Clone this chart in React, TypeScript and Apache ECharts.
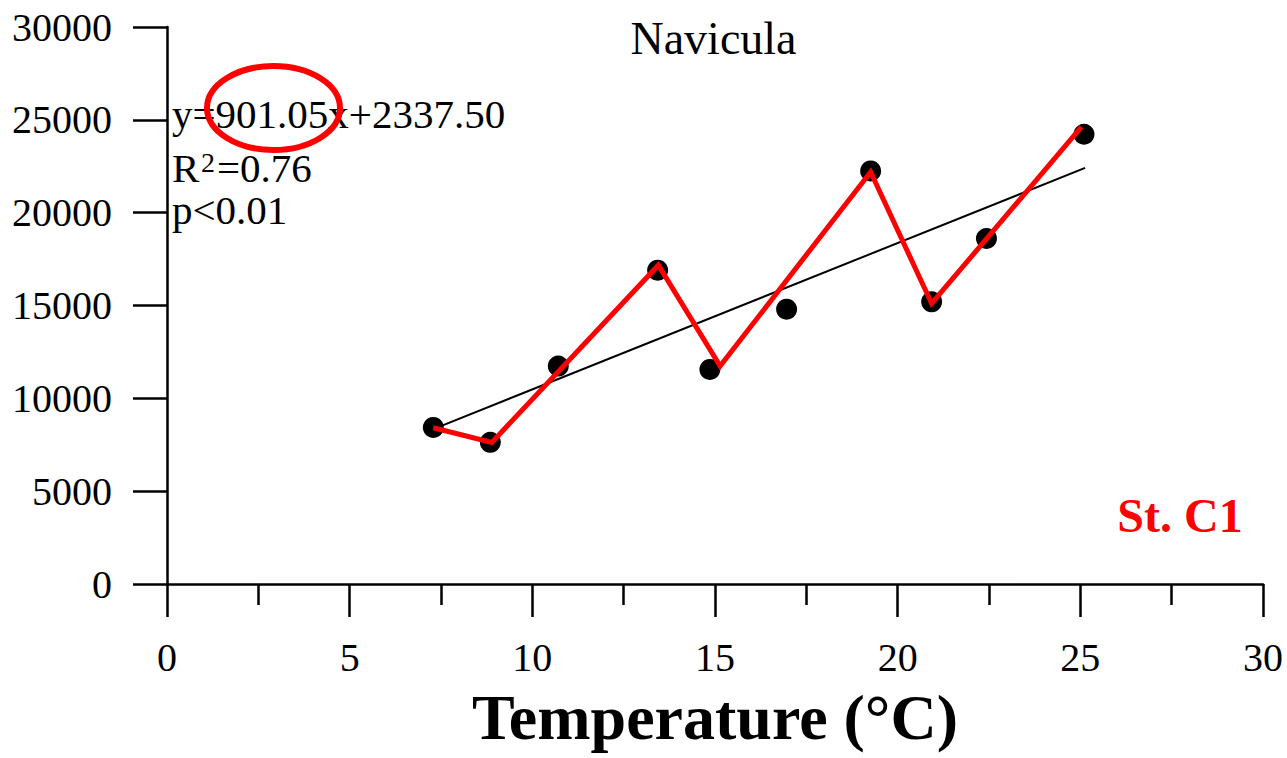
import React, { useEffect, useRef } from 'react';
import * as echarts from 'echarts';

// Data
const temperature = [7.29, 8.85, 10.71, 13.43, 14.86, 16.96, 19.26, 20.93, 22.43, 25.1];
const abundance = [8435, 7628, 11735, 16903, 11557, 14803, 22248, 15196, 18609, 24224];
// Fitted regression line as drawn (end points)
const regressionX = [7.34, 25.13];
const regressionY = [8381, 22410];
// Red hand-drawn trace vertices
const traceX = [7.29, 8.89, 13.45, 15.14, 19.26, 20.93, 25.03];
const traceY = [8418, 7628, 17172, 11735, 22194, 15110, 24617];

const titleText = 'Navicula';
const eqLine = 'y=901.05x+2337.50';
const r2Text = '=0.76';
const pText = 'p<0.01';
const stationText = 'St. C1';
const xAxisName = 'Temperature (°C)';

const SERIF = 'Liberation Serif';

export default function App() {
  const ref = useRef<HTMLDivElement>(null);
  useEffect(() => {
    if (!ref.current) return;
    const chart = echarts.init(ref.current, undefined, { renderer: 'svg' });
    const pts = temperature.map((t, i) => [t, abundance[i]]);
    const reg = regressionX.map((t, i) => [t, regressionY[i]]);
    const trace = traceX.map((t, i) => [t, traceY[i]]);
    chart.setOption({
      animation: false,
      backgroundColor: '#ffffff',
      grid: { left: 167, right: 24, top: 27, bottom: 174, containLabel: false },
      xAxis: {
        type: 'value',
        min: 0,
        max: 30,
        interval: 5,
        name: xAxisName,
        nameLocation: 'middle',
        nameGap: 101,
        nameTextStyle: { fontFamily: SERIF, fontSize: 64, fontWeight: 'bold', color: '#000' },
        axisLine: { show: true, onZero: false, lineStyle: { color: '#000', width: 2.5 } },
        axisTick: { show: true, length: 33, lineStyle: { color: '#000', width: 2.5 } },
        minorTick: { show: true, splitNumber: 2, length: 21, lineStyle: { color: '#000', width: 2.5 } },
        splitLine: { show: false },
        axisLabel: { margin: 53, fontFamily: SERIF, fontSize: 40, color: '#000' },
      },
      yAxis: {
        type: 'value',
        min: 0,
        max: 30000,
        interval: 5000,
        axisLine: { show: true, lineStyle: { color: '#000', width: 2.5 } },
        axisTick: { show: true, length: 34, lineStyle: { color: '#000', width: 2.5 } },
        splitLine: { show: false },
        axisLabel: {
          margin: 55,
          fontFamily: SERIF,
          fontSize: 40,
          color: '#000',
          formatter: (v: number) => String(v),
        },
      },
      series: [
        {
          type: 'line',
          data: reg,
          symbol: 'none',
          lineStyle: { color: '#000', width: 2 },
          z: 2,
        },
        {
          type: 'scatter',
          data: pts,
          symbol: 'circle',
          symbolSize: 21,
          itemStyle: { color: '#000', opacity: 1 },
          z: 3,
        },
        {
          type: 'line',
          data: trace,
          symbol: 'none',
          lineStyle: { color: '#ff0000', width: 5, join: 'miter' },
          z: 4,
        },
      ],
      graphic: [
        {
          type: 'text',
          x: 713.5,
          y: 38,
          style: { text: titleText, font: `46px "${SERIF}"`, fill: '#000', align: 'center', verticalAlign: 'middle' },
        },
        {
          type: 'text',
          x: 172,
          y: 114,
          style: { text: eqLine, font: `41px "${SERIF}"`, fill: '#000', align: 'left', verticalAlign: 'middle' },
        },
        {
          type: 'text',
          x: 172,
          y: 168,
          style: { text: 'R', font: `41px "${SERIF}"`, fill: '#000', align: 'left', verticalAlign: 'middle' },
        },
        {
          type: 'text',
          x: 201,
          y: 162,
          style: { text: '2', font: `28px "${SERIF}"`, fill: '#000', align: 'left', verticalAlign: 'middle' },
        },
        {
          type: 'text',
          x: 217,
          y: 168,
          style: { text: r2Text, font: `41px "${SERIF}"`, fill: '#000', align: 'left', verticalAlign: 'middle' },
        },
        {
          type: 'text',
          x: 172,
          y: 210,
          style: { text: pText, font: `41px "${SERIF}"`, fill: '#000', align: 'left', verticalAlign: 'middle' },
        },
        {
          type: 'ellipse',
          shape: { cx: 273.5, cy: 108, rx: 66.5, ry: 42 },
          style: { fill: 'none', stroke: '#ff0000', lineWidth: 6 },
          z: 10,
        },
        {
          type: 'text',
          x: 1180,
          y: 515,
          style: { text: stationText, font: `bold 48px "${SERIF}"`, fill: '#ff0000', align: 'center', verticalAlign: 'middle' },
        },
      ],
    });
    return () => chart.dispose();
  }, []);
  return (
    <div
      ref={ref}
      style={{ position: 'fixed', left: 0, top: 0, width: 1287, height: 758, background: '#fff' }}
    />
  );
}
